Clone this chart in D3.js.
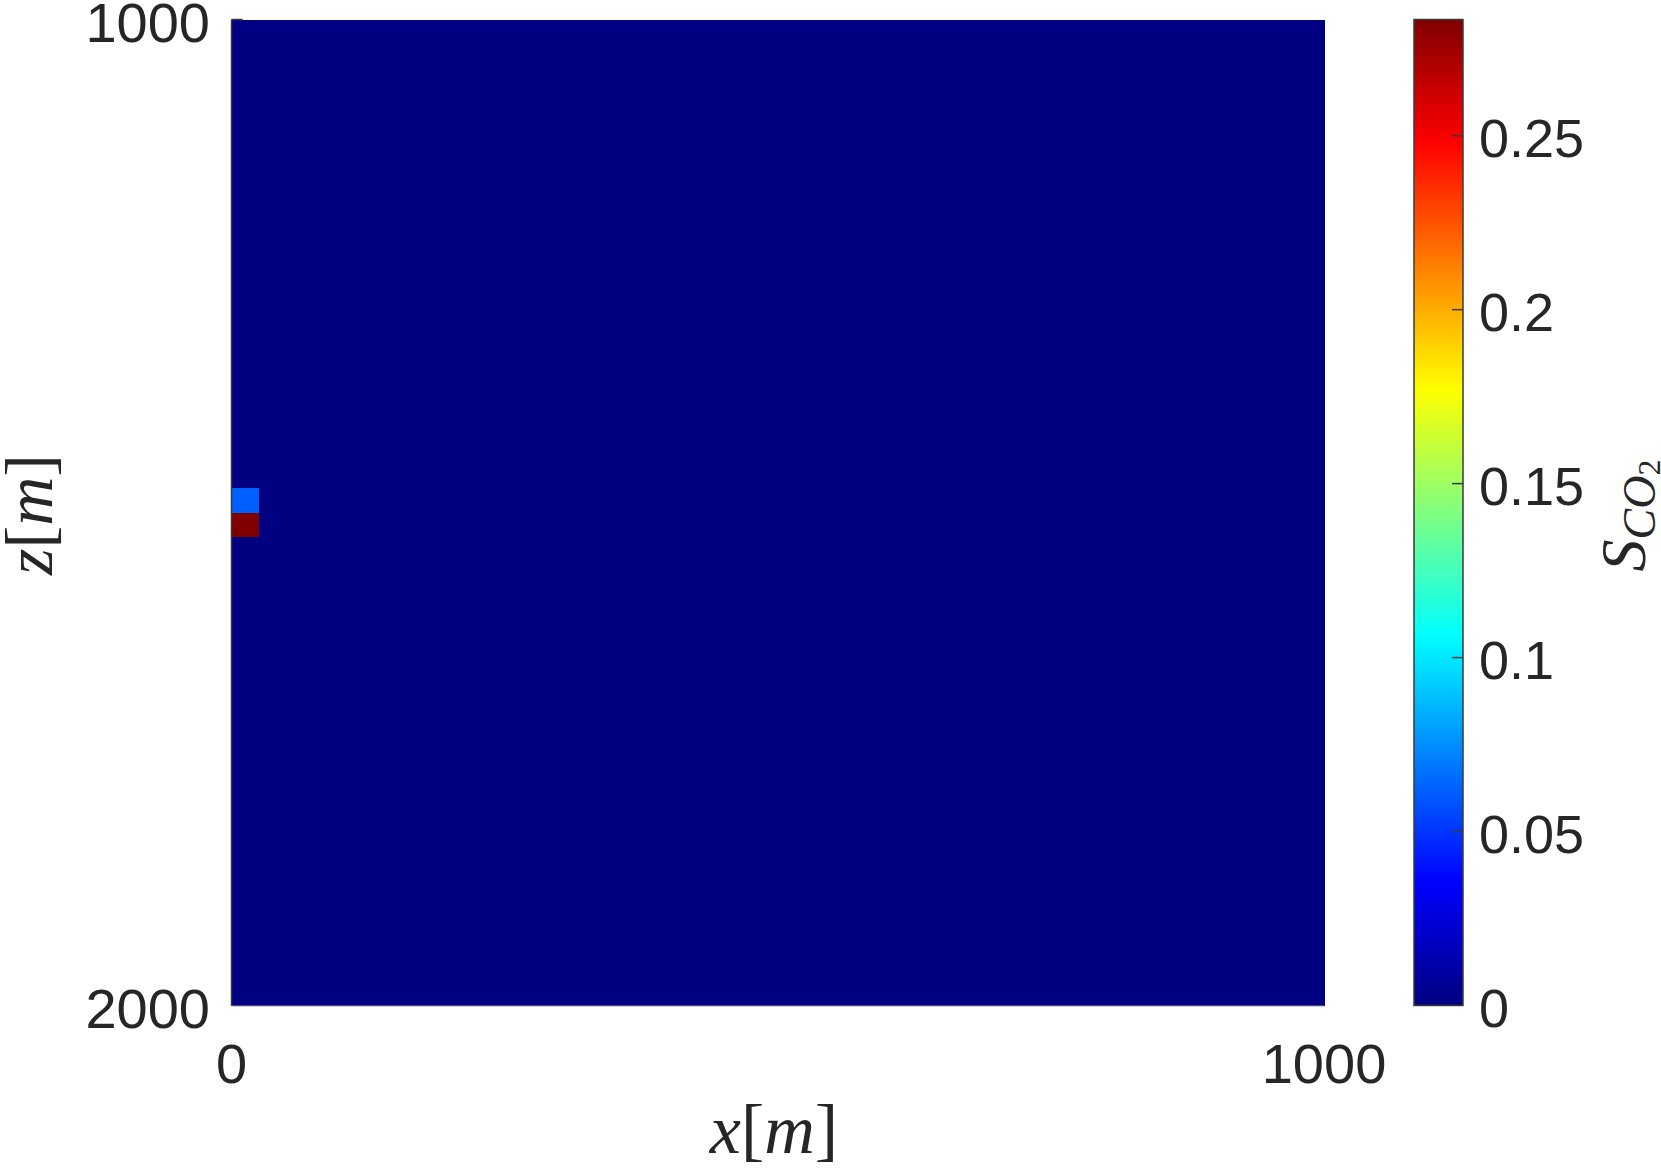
<!DOCTYPE html>
<html>
<head>
<meta charset="utf-8">
<script src="https://cdn.jsdelivr.net/npm/d3@7/dist/d3.min.js"></script>
<style>
  html, body { margin: 0; padding: 0; background: #fff; }
  svg { display: block; }
</style>
</head>
<body>
<svg id="chart" width="1661" height="1173"></svg>
<script>
// ---- data ----
const xDomain = [0, 1000];          // x [m]
const zDomain = [1000, 2000];       // z [m] (depth, reversed)
const cellSize = 25;                // grid spacing [m]
const xTicks = [0, 1000];
const zTicks = [1000, 2000];
const cbTicks = [0, 0.05, 0.1, 0.15, 0.2, 0.25];
const cbTickLabels = ["0", "0.05", "0.1", "0.15", "0.2", "0.25"];
const satMin = 0;
const satMax = 0.2834;
// non-zero CO2 saturation cells (column index, row index, value); all others are 0
const cellCol = [0, 0];
const cellRow = [19, 20];
const cellSat = [0.062, 0.2834];

// ---- layout ----
const plot = { left: 231.5, right: 1324, top: 19.5, bottom: 1005.5 };
const cb = { left: 1414, right: 1463 };
const textColor = "#262626";

const svg = d3.select("#chart");

const x = d3.scaleLinear().domain(xDomain).range([plot.left, plot.right]);
const z = d3.scaleLinear().domain(zDomain).range([plot.top, plot.bottom]);
const cy = d3.scaleLinear().domain([satMin, satMax]).range([plot.bottom, plot.top]);

// jet colormap
const jetStops = [0, 0.125, 0.375, 0.625, 0.875, 1];
const jetColors = ["#000080", "#0000ff", "#00ffff", "#ffff00", "#ff0000", "#800000"];
const color = d3.scaleLinear()
  .domain(jetStops.map(t => satMin + t * (satMax - satMin)))
  .range(jetColors)
  .interpolate(d3.interpolateRgb)
  .clamp(true);

// build grid
const nx = Math.round((xDomain[1] - xDomain[0]) / cellSize);
const nz = Math.round((zDomain[1] - zDomain[0]) / cellSize);
const satLookup = new Map();
cellCol.forEach((c, i) => satLookup.set(c + "," + cellRow[i], cellSat[i]));
const cells = [];
for (let k = 0; k < nz; k++) {
  for (let i = 0; i < nx; i++) {
    cells.push({
      x0: xDomain[0] + i * cellSize,
      z0: zDomain[0] + k * cellSize,
      s: satLookup.get(i + "," + k) || 0
    });
  }
}

svg.append("g")
  .attr("shape-rendering", "crispEdges")
  .selectAll("rect")
  .data(cells)
  .join("rect")
  .attr("x", d => x(d.x0))
  .attr("y", d => z(d.z0))
  .attr("width", d => x(d.x0 + cellSize) - x(d.x0) + 0.5)
  .attr("height", d => z(d.z0 + cellSize) - z(d.z0) + 0.5)
  .attr("fill", d => color(d.s));

// axes lines
svg.append("line")
  .attr("x1", plot.left).attr("x2", plot.left)
  .attr("y1", plot.top).attr("y2", plot.bottom + 0.5)
  .attr("stroke", "#3a3a3a").attr("stroke-width", 1.5);
svg.append("line")
  .attr("x1", plot.left).attr("x2", plot.right)
  .attr("y1", plot.bottom + 0.5).attr("y2", plot.bottom + 0.5)
  .attr("stroke", "#9a9a9a").attr("stroke-width", 1);
// top-left y tick
svg.append("line")
  .attr("x1", plot.left).attr("x2", plot.left + 11)
  .attr("y1", z(zTicks[0])).attr("y2", z(zTicks[0]))
  .attr("stroke", "#3a3a3a").attr("stroke-width", 1.5);

const tickFont = "'Liberation Sans', Arial, Helvetica, sans-serif";
const tickSize = 56;

// y tick labels
svg.append("g").selectAll("text")
  .data(zTicks).join("text")
  .attr("x", 210)
  .attr("y", d => z(d) + 22.5)
  .attr("text-anchor", "end")
  .attr("font-family", tickFont)
  .attr("font-size", tickSize)
  .attr("fill", textColor)
  .text(d => d);

// x tick labels
svg.append("g").selectAll("text")
  .data(xTicks).join("text")
  .attr("x", d => x(d))
  .attr("y", 1083)
  .attr("text-anchor", "middle")
  .attr("font-family", tickFont)
  .attr("font-size", tickSize)
  .attr("fill", textColor)
  .text(d => d);

// axis labels (LaTeX-like)
const mathFont = "'Liberation Serif', 'DejaVu Serif', serif";
const xl = svg.append("text")
  .attr("x", 774)
  .attr("y", 1153)
  .attr("text-anchor", "middle")
  .attr("font-family", mathFont)
  .attr("font-size", 70)
  .attr("fill", textColor);
xl.append("tspan").attr("font-style", "italic").text("x");
xl.append("tspan").attr("font-style", "normal").text("[");
xl.append("tspan").attr("font-style", "italic").text("m");
xl.append("tspan").attr("font-style", "normal").text("]");

const zl = svg.append("text")
  .attr("transform", `translate(52, ${(plot.top + plot.bottom) / 2 + 2}) rotate(-90)`)
  .attr("text-anchor", "middle")
  .attr("font-family", mathFont)
  .attr("font-size", 68)
  .attr("fill", textColor);
zl.append("tspan").attr("font-style", "italic").text("z");
zl.append("tspan").attr("font-style", "normal").text("[");
zl.append("tspan").attr("font-style", "italic").text("m");
zl.append("tspan").attr("font-style", "normal").text("]");

// colorbar
const defs = svg.append("defs");
const grad = defs.append("linearGradient")
  .attr("id", "jetgrad")
  .attr("x1", 0).attr("y1", 1).attr("x2", 0).attr("y2", 0);
grad.selectAll("stop")
  .data(jetStops).join("stop")
  .attr("offset", d => d)
  .attr("stop-color", (d, i) => jetColors[i]);

svg.append("rect")
  .attr("x", cb.left).attr("y", cy(satMax))
  .attr("width", cb.right - cb.left)
  .attr("height", cy(satMin) - cy(satMax))
  .attr("fill", "url(#jetgrad)")
  .attr("stroke", "#3a3a3a")
  .attr("stroke-width", 1.5);

svg.append("g").selectAll("line")
  .data(cbTicks.filter(t => t > satMin)).join("line")
  .attr("x1", cb.right - 11).attr("x2", cb.right)
  .attr("y1", d => cy(d)).attr("y2", d => cy(d))
  .attr("stroke", "#3a3a3a").attr("stroke-width", 1.5);

svg.append("g").selectAll("text")
  .data(cbTicks).join("text")
  .attr("x", 1479)
  .attr("y", d => cy(d) + 21.5)
  .attr("font-family", tickFont)
  .attr("font-size", 54)
  .attr("fill", textColor)
  .text((d, i) => cbTickLabels[i]);

// colorbar label S_{CO_2}
const cl = svg.append("text")
  .attr("transform", `translate(1645, ${(plot.top + plot.bottom) / 2 + 3}) rotate(-90)`)
  .attr("text-anchor", "middle")
  .attr("font-family", mathFont)
  .attr("font-style", "italic")
  .attr("fill", textColor);
cl.append("tspan").attr("font-size", 64).text("S");
cl.append("tspan").attr("font-size", 46).attr("dy", 10).text("CO");
cl.append("tspan").attr("font-size", 32).attr("font-style", "normal").attr("dy", 5).text("2");
</script>
</body>
</html>
